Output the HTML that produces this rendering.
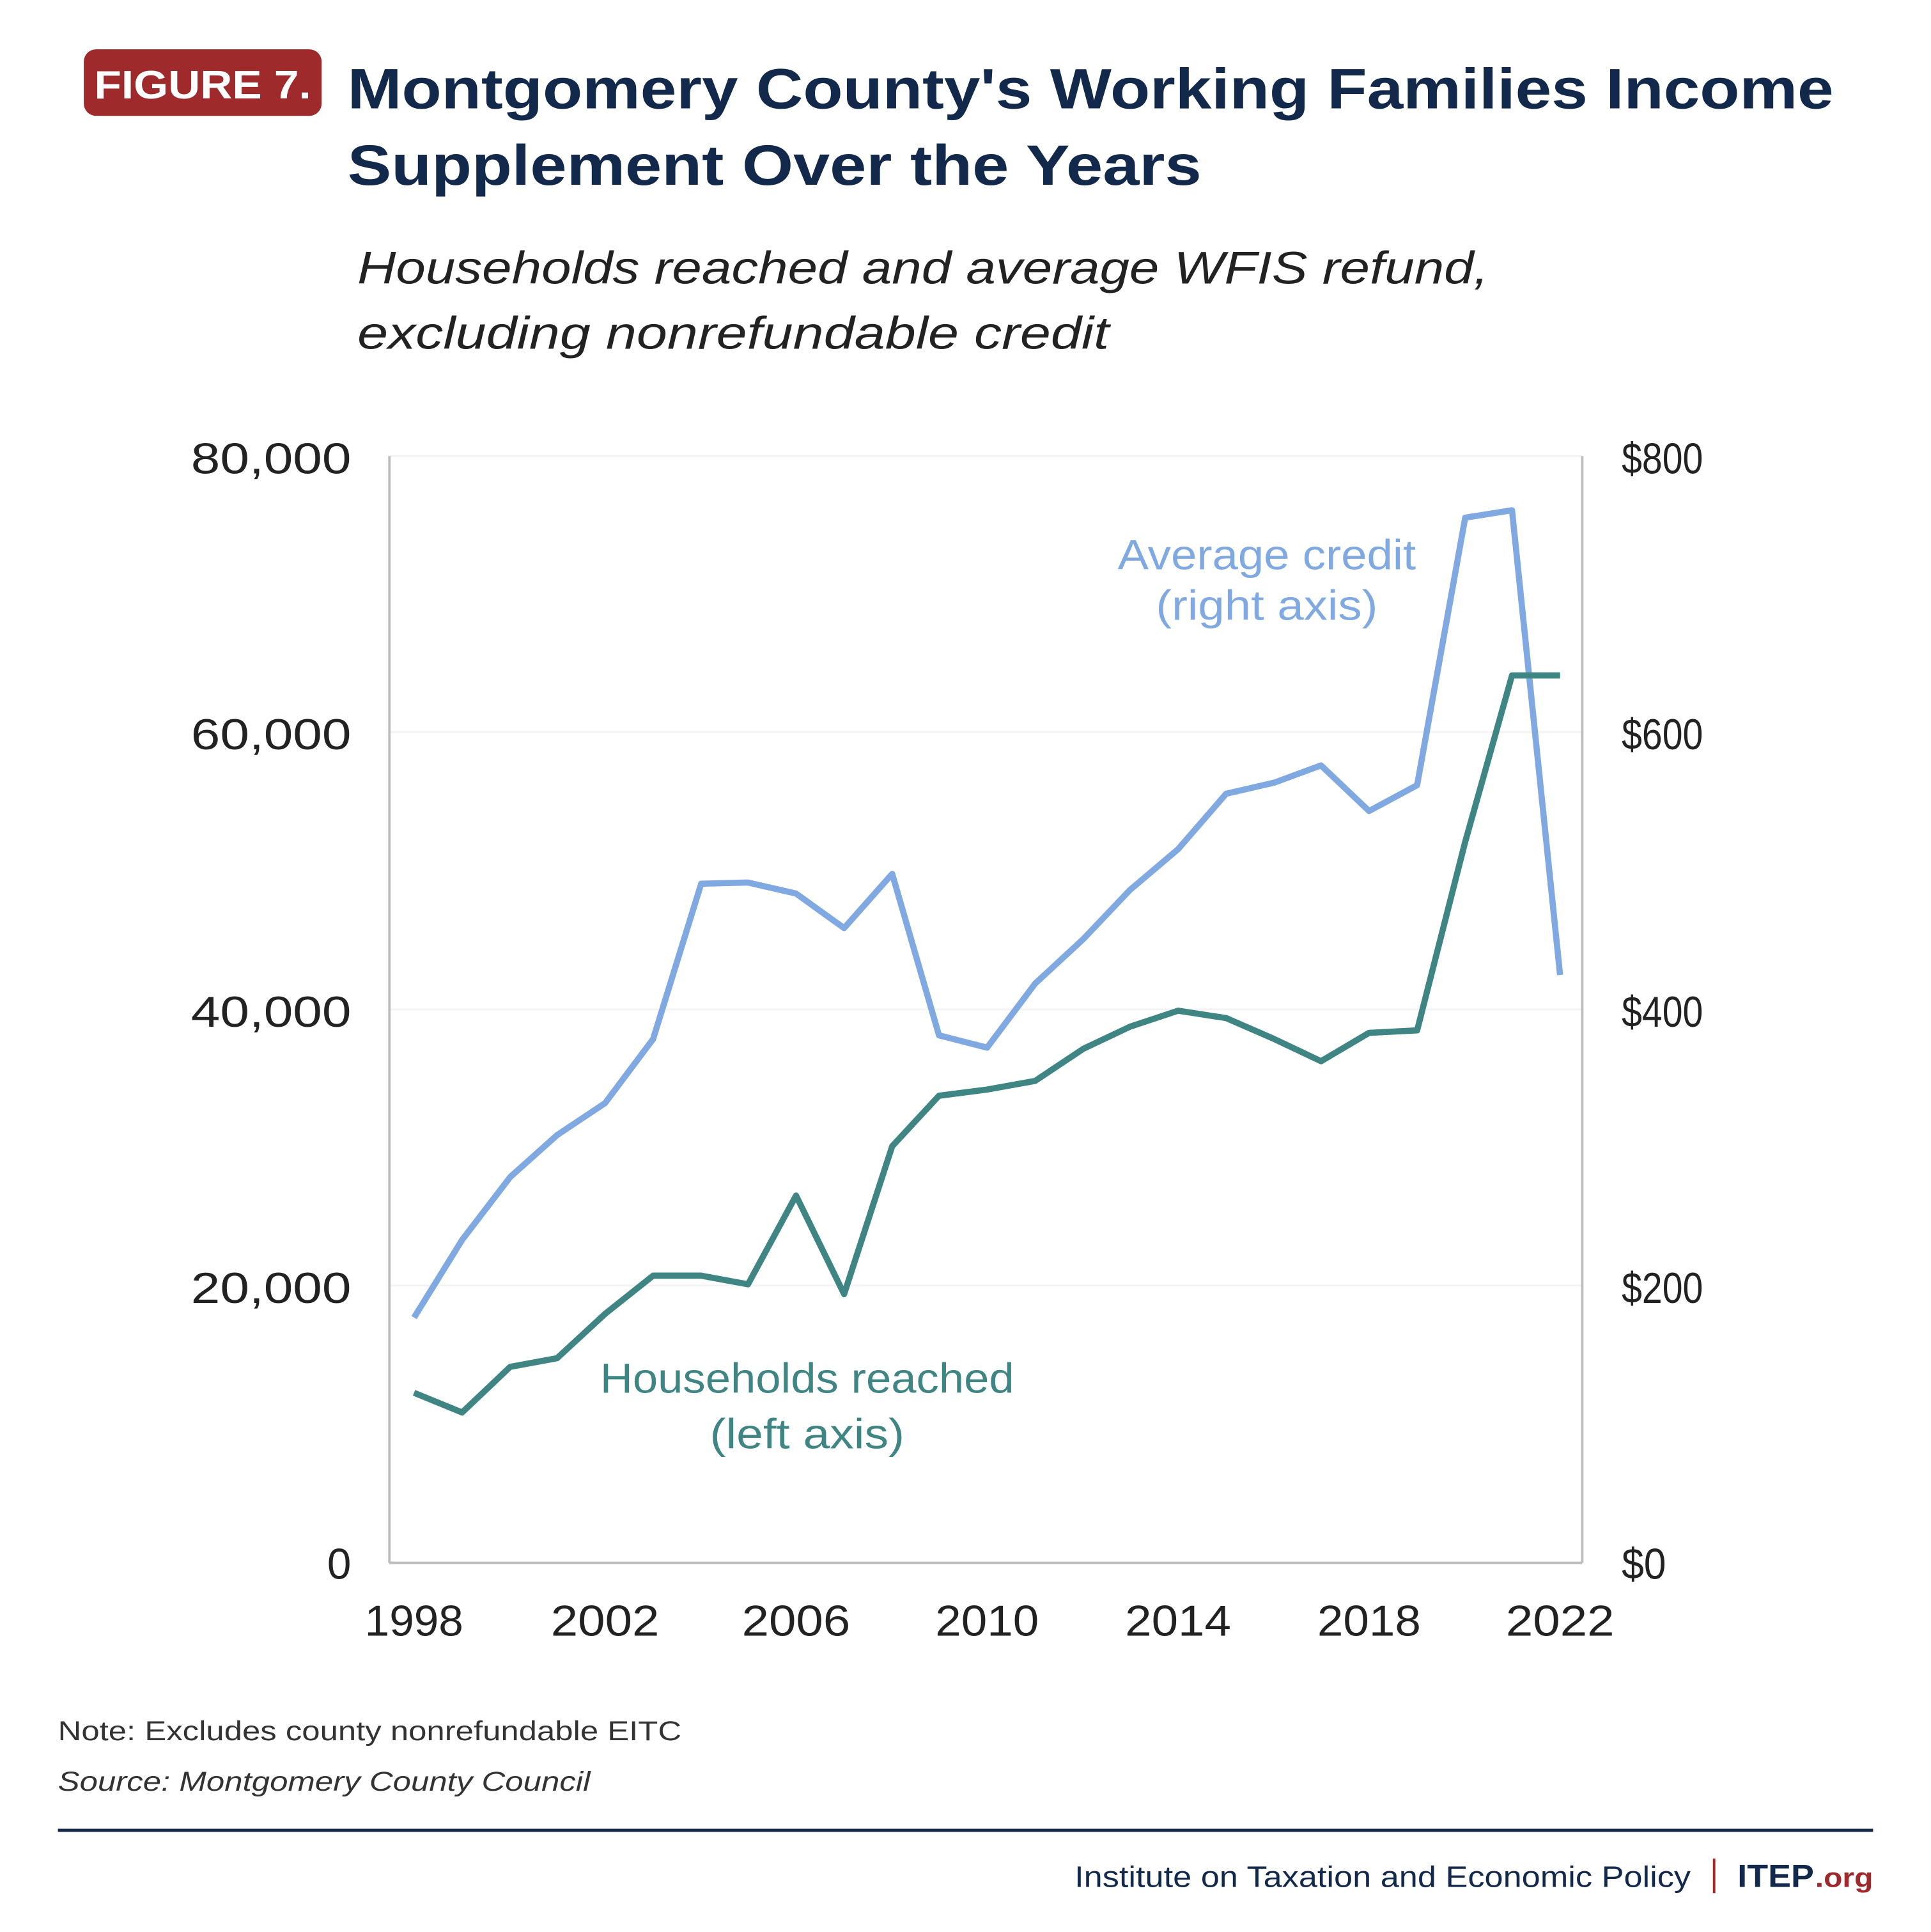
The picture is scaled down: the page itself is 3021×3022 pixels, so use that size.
<!DOCTYPE html>
<html><head><style>html,body{margin:0;padding:0;background:#fff}svg{display:block}</style></head>
<body>
<svg width="3021" height="3022" viewBox="0 0 1567 1567.5" xmlns="http://www.w3.org/2000/svg" font-family="Liberation Sans, sans-serif">
<rect width="1567" height="1568" fill="#fff"/>
<rect x="68" y="40" width="193" height="54" rx="10" fill="#9e2a2b"/>
<text x="164.5" y="80" text-anchor="middle" fill="#fff" font-weight="bold" font-size="32" textLength="176" lengthAdjust="spacingAndGlyphs">FIGURE 7.</text>
<text x="282" y="88" fill="#13294b" font-weight="bold" font-size="46" textLength="1206" lengthAdjust="spacingAndGlyphs">Montgomery County's Working Families Income</text>
<text x="282" y="150" fill="#13294b" font-weight="bold" font-size="46" textLength="693" lengthAdjust="spacingAndGlyphs">Supplement Over the Years</text>
<text x="290" y="230" fill="#222" font-style="italic" font-size="37" textLength="918" lengthAdjust="spacingAndGlyphs">Households reached and average WFIS refund,</text>
<text x="290" y="283" fill="#222" font-style="italic" font-size="37" textLength="610" lengthAdjust="spacingAndGlyphs">excluding nonrefundable credit</text>
<g stroke="#f3f3f3" stroke-width="1.5">
<line x1="316" y1="370" x2="1284" y2="370"/><line x1="316" y1="594" x2="1284" y2="594"/>
<line x1="316" y1="819" x2="1284" y2="819"/><line x1="316" y1="1043" x2="1284" y2="1043"/>
</g>
<g stroke="#bdbdbd" stroke-width="2" fill="none">
<line x1="316" y1="370" x2="316" y2="1268"/><line x1="1284" y1="370" x2="1284" y2="1268"/>
<line x1="316" y1="1268" x2="1284" y2="1268"/>
</g>
<g font-size="35" fill="#222" text-anchor="end">
<text x="285" y="384" textLength="130" lengthAdjust="spacingAndGlyphs">80,000</text><text x="285" y="608" textLength="130" lengthAdjust="spacingAndGlyphs">60,000</text><text x="285" y="833" textLength="130" lengthAdjust="spacingAndGlyphs">40,000</text><text x="285" y="1057" textLength="130" lengthAdjust="spacingAndGlyphs">20,000</text><text x="285" y="1281">0</text>
</g>
<g font-size="35" fill="#222">
<text x="1316" y="384" textLength="66" lengthAdjust="spacingAndGlyphs">$800</text><text x="1316" y="608" textLength="66" lengthAdjust="spacingAndGlyphs">$600</text><text x="1316" y="833" textLength="66" lengthAdjust="spacingAndGlyphs">$400</text><text x="1316" y="1057" textLength="66" lengthAdjust="spacingAndGlyphs">$200</text><text x="1316" y="1281" textLength="36" lengthAdjust="spacingAndGlyphs">$0</text>
</g>
<g font-size="35" fill="#222" text-anchor="middle">
<text x="336" y="1327" textLength="80" lengthAdjust="spacingAndGlyphs">1998</text><text x="491" y="1327" textLength="88" lengthAdjust="spacingAndGlyphs">2002</text><text x="646" y="1327" textLength="88" lengthAdjust="spacingAndGlyphs">2006</text><text x="801" y="1327" textLength="84" lengthAdjust="spacingAndGlyphs">2010</text><text x="956" y="1327" textLength="86" lengthAdjust="spacingAndGlyphs">2014</text><text x="1111" y="1327" textLength="84" lengthAdjust="spacingAndGlyphs">2018</text><text x="1266" y="1327" textLength="88" lengthAdjust="spacingAndGlyphs">2022</text>
</g>
<polyline fill="none" stroke="#7fa9e0" stroke-width="5" stroke-linejoin="round" points="336,1069 375,1006 414,955 452,921 491,895 530,843 569,717 607,716 646,725 685,753 724,709 762,840 801,850 840,798 879,762 917,722 956,689 995,644 1034,635 1072,621 1111,658 1150,637 1189,420 1227,414 1266,791"/>
<polyline fill="none" stroke="#3f8584" stroke-width="5" stroke-linejoin="round" points="336,1130 375,1146 414,1109 452,1102 491,1066 530,1035 569,1035 607,1042 646,970 685,1050 724,930 762,889 801,884 840,877 879,851 917,833 956,820 995,826 1034,843 1072,861 1111,838 1150,836 1189,683 1227,548 1266,548"/>
<g font-size="34" fill="#7fa9e0" text-anchor="middle">
<text x="1028" y="462" textLength="242" lengthAdjust="spacingAndGlyphs">Average credit</text><text x="1028" y="503" textLength="180" lengthAdjust="spacingAndGlyphs">(right axis)</text>
</g>
<g font-size="34" fill="#3f8584" text-anchor="middle">
<text x="655" y="1130" textLength="336" lengthAdjust="spacingAndGlyphs">Households reached</text><text x="655" y="1175" textLength="158" lengthAdjust="spacingAndGlyphs">(left axis)</text>
</g>
<text x="47" y="1412" font-size="22" fill="#333" textLength="506" lengthAdjust="spacingAndGlyphs">Note: Excludes county nonrefundable EITC</text>
<text x="47" y="1453" font-size="22" fill="#333" font-style="italic" textLength="432" lengthAdjust="spacingAndGlyphs">Source: Montgomery County Council</text>
<line x1="47" y1="1485" x2="1520" y2="1485" stroke="#13294b" stroke-width="2.5"/>
<text x="1372" y="1531" font-size="24" fill="#13294b" text-anchor="end" textLength="500" lengthAdjust="spacingAndGlyphs">Institute on Taxation and Economic Policy</text>
<line x1="1391" y1="1508" x2="1391" y2="1536" stroke="#9e2a2b" stroke-width="2"/>
<text x="1410" y="1531" font-size="26" fill="#13294b" font-weight="bold" textLength="62" lengthAdjust="spacingAndGlyphs">ITEP</text>
<text x="1473" y="1531" font-size="22" fill="#9e2a2b" font-weight="bold" textLength="47" lengthAdjust="spacingAndGlyphs">.org</text>
</svg>
</body></html>
